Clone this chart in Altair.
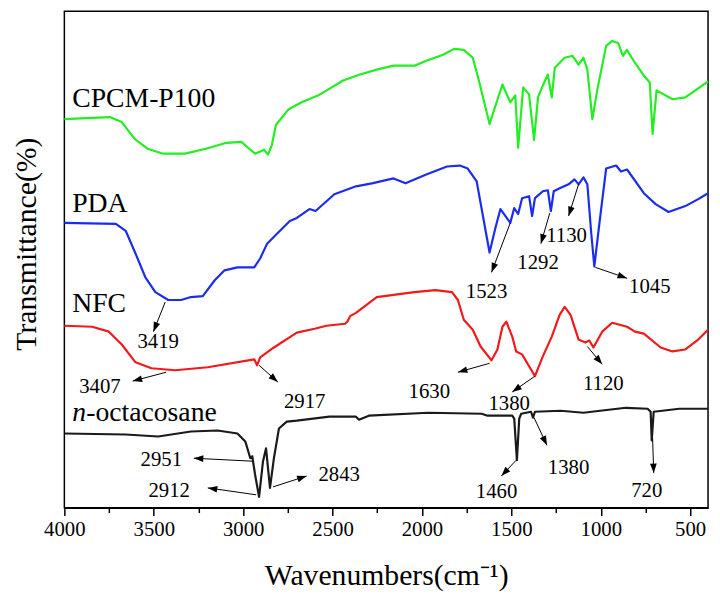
import math
import altair as alt
import pandas as pd

# ---------------- data ----------------
# CPCM-P100 (green)
green_w = [4000, 3746, 3679, 3607, 3535, 3447, 3325, 3209, 3093, 3010, 2966, 2933, 2883, 2861, 2839,
           2817, 2745, 2673, 2579, 2441, 2347, 2253, 2158, 2042, 1976, 1882, 1821, 1766, 1716, 1683,
           1622, 1550, 1506, 1478, 1462, 1434, 1401, 1373, 1351, 1324, 1296, 1274, 1257, 1202, 1158,
           1124, 1097, 1075, 1047, 1019, 970, 936, 903, 876, 854, 809, 759, 726, 710, 688,
           599, 527, 400]
green_t = [393, 395, 390, 373, 363, 358, 358, 363, 369, 370, 363, 358, 362, 357, 367,
           387, 403, 410, 417, 432, 438, 443, 447, 447, 452, 458, 464, 463, 455, 433,
           388, 428, 410, 417, 364, 425, 418, 372, 415, 427, 438, 415, 445, 455, 457,
           448, 455, 443, 393, 423, 467, 472, 470, 457, 463, 450, 437, 430, 378, 422,
           413, 415, 431]

# PDA (blue)
blue_w = [4000, 3712, 3657, 3602, 3547, 3491, 3419, 3347, 3292, 3226, 3159, 3104, 3032, 2938, 2905,
          2866, 2811, 2739, 2700, 2629, 2595, 2490, 2369, 2280, 2159, 2092, 1976, 1860, 1788, 1744,
          1694, 1661, 1622, 1589, 1561, 1534, 1506, 1484, 1462, 1440, 1401, 1384, 1368, 1324, 1296,
          1279, 1263, 1230, 1180, 1147, 1124, 1097, 1075, 1053, 1036, 1008, 970, 914, 887, 853,
          759, 693, 621, 527, 455, 400]
blue_t = [288, 287, 280, 257, 233, 218, 210, 210, 213, 214, 230, 240, 243, 243, 252,
          267, 277, 290, 293, 302, 300, 317, 325, 328, 333, 328, 337, 345, 346, 343,
          330, 297, 258, 283, 302, 295, 288, 303, 297, 313, 315, 295, 313, 320, 321,
          300, 320, 323, 327, 332, 327, 334, 327, 277, 244, 287, 343, 346, 340, 342,
          318, 307, 299, 305, 312, 318]

# NFC (red)
red_w = [4000, 3845, 3751, 3679, 3602, 3513, 3381, 3198, 2938, 2922, 2905, 2828, 2700, 2600, 2535,
         2430, 2418, 2400, 2369, 2253, 2042, 1926, 1832, 1799, 1766, 1716, 1672, 1611, 1578, 1550,
         1528, 1495, 1473, 1440, 1401, 1368, 1324, 1274, 1230, 1202, 1169, 1124, 1086, 1064, 1041,
         992, 936, 853, 809, 759, 665, 599, 527, 455, 400]
red_t = [184, 183, 178, 165, 147, 141, 139, 142, 150, 144, 152, 162, 177, 181, 184,
         186, 188, 194, 197, 213, 218, 220, 218, 210, 190, 180, 163, 149, 160, 183,
         188, 173, 158, 155, 143, 133, 153, 173, 195, 203, 195, 170, 167, 169, 162,
         178, 187, 183, 178, 176, 162, 158, 160, 170, 180]

# n-octacosane (black)
black_w = [4000, 3657, 3475, 3292, 3143, 3032, 2988, 2960, 2949, 2933, 2911, 2889, 2872, 2850, 2828,
           2800, 2756, 2700, 2518, 2369, 2352, 2297, 1965, 1666, 1633, 1495, 1484, 1469, 1456, 1445,
           1390, 1379, 1368, 1224, 1097, 1003, 859, 738, 721, 715, 704, 561, 400]
black_t = [75, 74, 72, 77, 78, 75, 67, 50, 52, 33, 11, 47, 60, 20, 50,
           80, 87, 88, 92, 92, 89, 93, 96, 95, 93, 93, 90, 48, 90, 95,
           97, 91, 97, 98, 96, 98, 101, 100, 97, 68, 97, 100, 100]

series_names = ["CPCM-P100", "PDA", "NFC", "n-octacosane"]
series_colors = ["#22ee22", "#1a2cf0", "#f01a1a", "#1a1a1a"]

# series labels
name_text = ["CPCM-P100", "PDA", "NFC"]
name_w = [3956, 3956, 3956]
name_t = [413, 307, 206]
octa_italic = "n"
octa_rest = "-octacosane"
octa_w = [3956, 3878]
octa_t = [96, 96]

# peak labels and arrows
peak_labels = ["3419", "3407", "2917", "1630", "1380", "1120", "1523", "1292", "1130", "1045",
               "2951", "2912", "2843", "1460", "1380", "720"]
peak_label_w = [3475, 3801, 2656, 1959, 1512, 986, 1639, 1351, 1191, 726,
                3458, 3414, 2463, 1583, 1180, 743]
peak_label_t = [167, 122, 107, 117, 105, 125, 218, 247, 275, 223,
                48, 17, 33, 16, 40, 17]
arrow_w1 = [3436, 3430, 2911, 1622, 1368, 1075, 1506, 1285, 1124, 1030,
            2949, 2927, 2833, 1473, 1373, 710]
arrow_t1 = [208, 137, 144, 146, 133, 163, 288, 298, 327, 243,
            47, 13, 21, 48, 91, 70]
arrow_w2 = [3502, 3618, 2806, 1799, 1495, 992, 1611, 1335, 1180, 853,
            3276, 3198, 2645, 1556, 1301, 704]
arrow_t2 = [178, 128, 127, 137, 117, 145, 238, 267, 295, 232,
            50, 20, 32, 32, 63, 35]

major_ticks = [4000, 3500, 3000, 2500, 2000, 1500, 1000, 500]
minor_ticks = [3750, 3250, 2750, 2250, 1750, 1250, 750]

# ---------------- build tables ----------------
W, H = 651, 502
X_MIN, X_MAX = 400, 4000
Y_MIN, Y_MAX = 0, 502
FONT = "Liberation Serif"

rows = []
for name, ws, ts in zip(series_names, [green_w, blue_w, red_w, black_w],
                        [green_t, blue_t, red_t, black_t]):
    for i, (w, t) in enumerate(zip(ws, ts)):
        rows.append({"series": name, "w": w, "t": t, "i": i})
curves = pd.DataFrame(rows)

kx = W / (X_MAX - X_MIN)
ky = H / (Y_MAX - Y_MIN)
arr_rows = []
for w1, t1, w2, t2 in zip(arrow_w1, arrow_t1, arrow_w2, arrow_t2):
    dx = -(w2 - w1) * kx
    dy = -(t2 - t1) * ky
    ang = math.degrees(math.atan2(dx, -dy)) % 360
    arr_rows.append({"w1": w1, "t1": t1, "w2": w2, "t2": t2, "ang": ang})
arrows = pd.DataFrame(arr_rows)

peaks = pd.DataFrame({"label": peak_labels, "w": peak_label_w, "t": peak_label_t})
names = pd.DataFrame({"label": name_text, "w": name_w, "t": name_t})
octa = pd.DataFrame({"label": [octa_italic, octa_rest], "w": octa_w, "t": octa_t,
                     "style": ["italic", "normal"]})

xscale = alt.Scale(domain=[X_MIN, X_MAX], reverse=True, nice=False, zero=False)
yscale = alt.Scale(domain=[Y_MIN, Y_MAX], nice=False, zero=False)

main_x_axis = alt.Axis(values=major_ticks, format="d", orient="bottom", grid=False,
                       tickSize=8, tickWidth=1.5, tickColor="black",
                       domainColor="black", domainWidth=1.5,
                       labelFont=FONT, labelFontSize=21, labelColor="black",
                       labelPadding=3, labelFlush=False, labelOverlap=False,
                       title="Wavenumbers(cm⁻¹)", titleFont=FONT, titleFontSize=30,
                       titleFontWeight="normal", titleColor="black",
                       titleBaseline="alphabetic", titleY=78, titleX=W / 2)
y_axis = alt.Axis(labels=False, ticks=False, domain=False, grid=False,
                  title="Transmittance(%)", titleFont=FONT, titleFontSize=30,
                  titleFontWeight="normal", titleColor="black", titleAngle=270,
                  titleBaseline="middle", titleAlign="center", titleX=-38, titleY=235)
minor_axis = alt.Axis(values=minor_ticks, orient="bottom", grid=False, labels=False,
                      domain=False, tickSize=5, tickWidth=1.5, tickColor="black", title=None)

lines = alt.Chart(curves).mark_line(strokeWidth=2.2, strokeJoin="round").encode(
    x=alt.X("w:Q", scale=xscale, axis=main_x_axis),
    y=alt.Y("t:Q", scale=yscale, axis=y_axis),
    color=alt.Color("series:N", scale=alt.Scale(domain=series_names, range=series_colors),
                    legend=None),
    order="i:Q",
)

shafts = alt.Chart(arrows).mark_rule(color="black", strokeWidth=1).encode(
    x=alt.X("w1:Q", scale=xscale, axis=None),
    y=alt.Y("t1:Q", scale=yscale, axis=None),
    x2="w2:Q",
    y2="t2:Q",
)

heads = alt.Chart(arrows).mark_point(
    shape="M0,0L0.85,2.4L-0.85,2.4Z", filled=True, fill="black",
    opacity=1, size=64,
).encode(
    x=alt.X("w2:Q", scale=xscale, axis=None),
    y=alt.Y("t2:Q", scale=yscale, axis=None),
    angle=alt.Angle("ang:Q", scale=None),
)

peak_text = alt.Chart(peaks).mark_text(font=FONT, fontSize=21, color="black",
                                       align="center", baseline="middle").encode(
    x=alt.X("w:Q", scale=xscale, axis=None),
    y=alt.Y("t:Q", scale=yscale, axis=None),
    text="label:N",
)

name_text_layer = alt.Chart(names).mark_text(font=FONT, fontSize=28, color="black",
                                             align="left", baseline="middle").encode(
    x=alt.X("w:Q", scale=xscale, axis=minor_axis),
    y=alt.Y("t:Q", scale=yscale, axis=None),
    text="label:N",
)

octa_n = alt.Chart(octa[octa["style"] == "italic"]).mark_text(
    font=FONT, fontSize=28, fontStyle="italic", color="black", align="left", baseline="middle"
).encode(
    x=alt.X("w:Q", scale=xscale, axis=None),
    y=alt.Y("t:Q", scale=yscale, axis=None),
    text="label:N",
)
octa_r = alt.Chart(octa[octa["style"] == "normal"]).mark_text(
    font=FONT, fontSize=28, color="black", align="left", baseline="middle"
).encode(
    x=alt.X("w:Q", scale=xscale, axis=None),
    y=alt.Y("t:Q", scale=yscale, axis=None),
    text="label:N",
)

chart = alt.layer(lines, shafts, heads, peak_text, name_text_layer, octa_n, octa_r).resolve_axis(
    x="independent", y="independent"
).properties(
    width=W, height=H,
    autosize=alt.AutoSizeParams(type="none"),
    padding={"left": 57, "top": 0, "right": 4, "bottom": 85},
    background="white",
).configure_view(stroke="black", strokeWidth=1.5).configure_axis(grid=False)

chart.save("out.html", embed_options={"renderer": "svg", "actions": False})
